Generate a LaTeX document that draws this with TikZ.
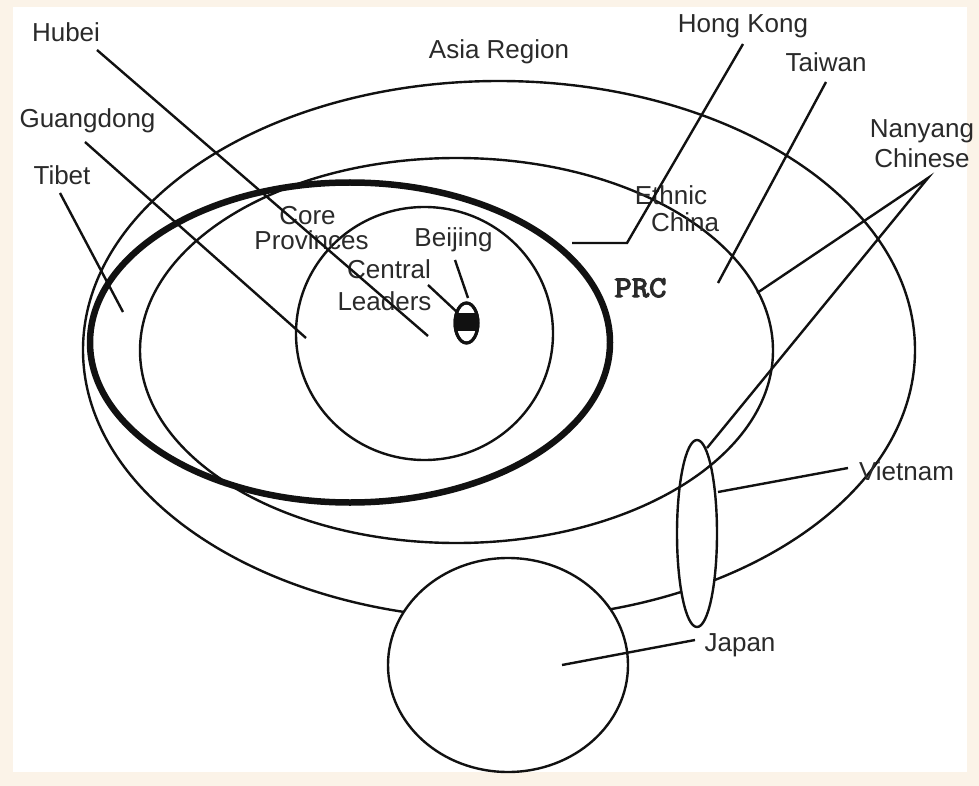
\documentclass[tikz,border=0pt]{standalone}
\usepackage{fontspec}
\setmainfont{Liberation Sans}
\newfontfamily\monob[FakeBold=4,FakeStretch=1.12]{Latin Modern Mono}
\usetikzlibrary{shapes.geometric}
\definecolor{framecol}{HTML}{FBF3E8}
\definecolor{inkcol}{HTML}{111111}
\definecolor{txtcol}{HTML}{2A2A2A}
\tikzset{
  region/.style={draw=inkcol, ellipse, line width=2.4pt, inner sep=0pt, outer sep=0pt},
  lbl/.style={font=\fontsize{26}{29}\selectfont, text=txtcol, inner sep=0pt, anchor=base},
  leader/.style={draw=inkcol, line width=2.4pt},
}
\begin{document}
\begin{tikzpicture}[x=1pt,y=-1pt]
\fill[framecol] (0,0) rectangle (979,786);
\fill[white] (13,7) rectangle (967,772);
\useasboundingbox (0,0) rectangle (979,786);
% regions
\node[region, minimum width=832pt, minimum height=538pt] (asia) at (499,350) {};
\node[region, fill=white, minimum width=240pt, minimum height=214pt] (japan) at (508,665) {};
\node[region, fill=white, minimum width=40pt, minimum height=187pt] (vietnam) at (697,533.5) {};
\node[region, minimum width=633pt, minimum height=385pt] (prc) at (456.5,350.5) {};
\node[region, line width=6.5pt, minimum width=520pt, minimum height=320pt] (thick) at (350,342.5) {};
\node[region, minimum width=257pt, minimum height=253pt] (core) at (424.5,333.5) {};
% Beijing
\node[region, fill=white, line width=3pt, minimum width=23pt, minimum height=40pt] (beijing) at (466.5,323) {};
\begin{scope}
\clip (466.5,323) ellipse [x radius=11.5pt, y radius=20pt];
\fill[inkcol] (454,313) rectangle (479,331);
\end{scope}
\draw[inkcol, line width=3pt] (466.5,323) ellipse [x radius=11.5pt, y radius=20pt];
% labels
\node[lbl] (lhubei) at (66,42) {Hubei};
\node[lbl] (lasia) at (499,59) {Asia Region};
\node[lbl] (lhk) at (743,33) {Hong Kong};
\node[lbl] (ltaiwan) at (826,72) {Taiwan};
\node[lbl] (lnanyang) at (922,138) {Nanyang};
\node[lbl] (lchinese) at (922,168) {Chinese};
\node[lbl] (lguang) at (87.5,128) {Guangdong};
\node[lbl] (ltibet) at (62,185) {Tibet};
\node[lbl] (lcore) at (307.5,225) {Core};
\node[lbl] (lprov) at (311.5,250) {Provinces};
\node[lbl] (lbeijing) at (453.5,247) {Beijing};
\node[lbl] (lcentral) at (389,278) {Central};
\node[lbl] (lleaders) at (384.5,310) {Leaders};
\node[lbl, font=\monob\fontsize{30}{32}\selectfont] (lprc) at (640.5,297) {PRC};
\node[lbl] (lethnic) at (671,205) {Ethnic};
\node[lbl] (lchina) at (685,232) {China};
\node[lbl] (lvietnam) at (906.5,480) {Vietnam};
\node[lbl] (ljapan) at (740,651) {Japan};
% leader end points
\coordinate (hubeiA) at (97,50);     \coordinate (hubeiB) at (428,336);
\coordinate (guangA) at (85,142);    \coordinate (guangB) at (306,338);
\coordinate (tibetA) at (60,193);    \coordinate (tibetB) at (123,312);
\coordinate (hkA) at (743,44);       \coordinate (hkK) at (627,243);  \coordinate (hkB) at (572,243);
\coordinate (taiA) at (826,82);      \coordinate (taiB) at (718,283);
\coordinate (nanA) at (928,178);     \coordinate (nanB) at (757,293); \coordinate (nanC) at (707,448);
\coordinate (beiA) at (455,260);     \coordinate (beiB) at (468,298);
\coordinate (cenA) at (428,285);     \coordinate (cenB) at (458,313);
\coordinate (vnA) at (848,468);      \coordinate (vnB) at (718,492);
\coordinate (jpA) at (695,640);      \coordinate (jpB) at (562,665);
% leaders
\draw[leader] (hubeiA) -- (hubeiB);
\draw[leader] (guangA) -- (guangB);
\draw[leader] (tibetA) -- (tibetB);
\draw[leader] (hkA) -- (hkK) -- (hkB);
\draw[leader] (taiA) -- (taiB);
\draw[leader] (nanB) -- (nanA) -- (nanC);
\draw[leader] (beiA) -- (beiB);
\draw[leader] (cenA) -- (cenB);
\draw[leader] (vnA) -- (vnB);
\draw[leader] (jpA) -- (jpB);
\end{tikzpicture}
\end{document}
